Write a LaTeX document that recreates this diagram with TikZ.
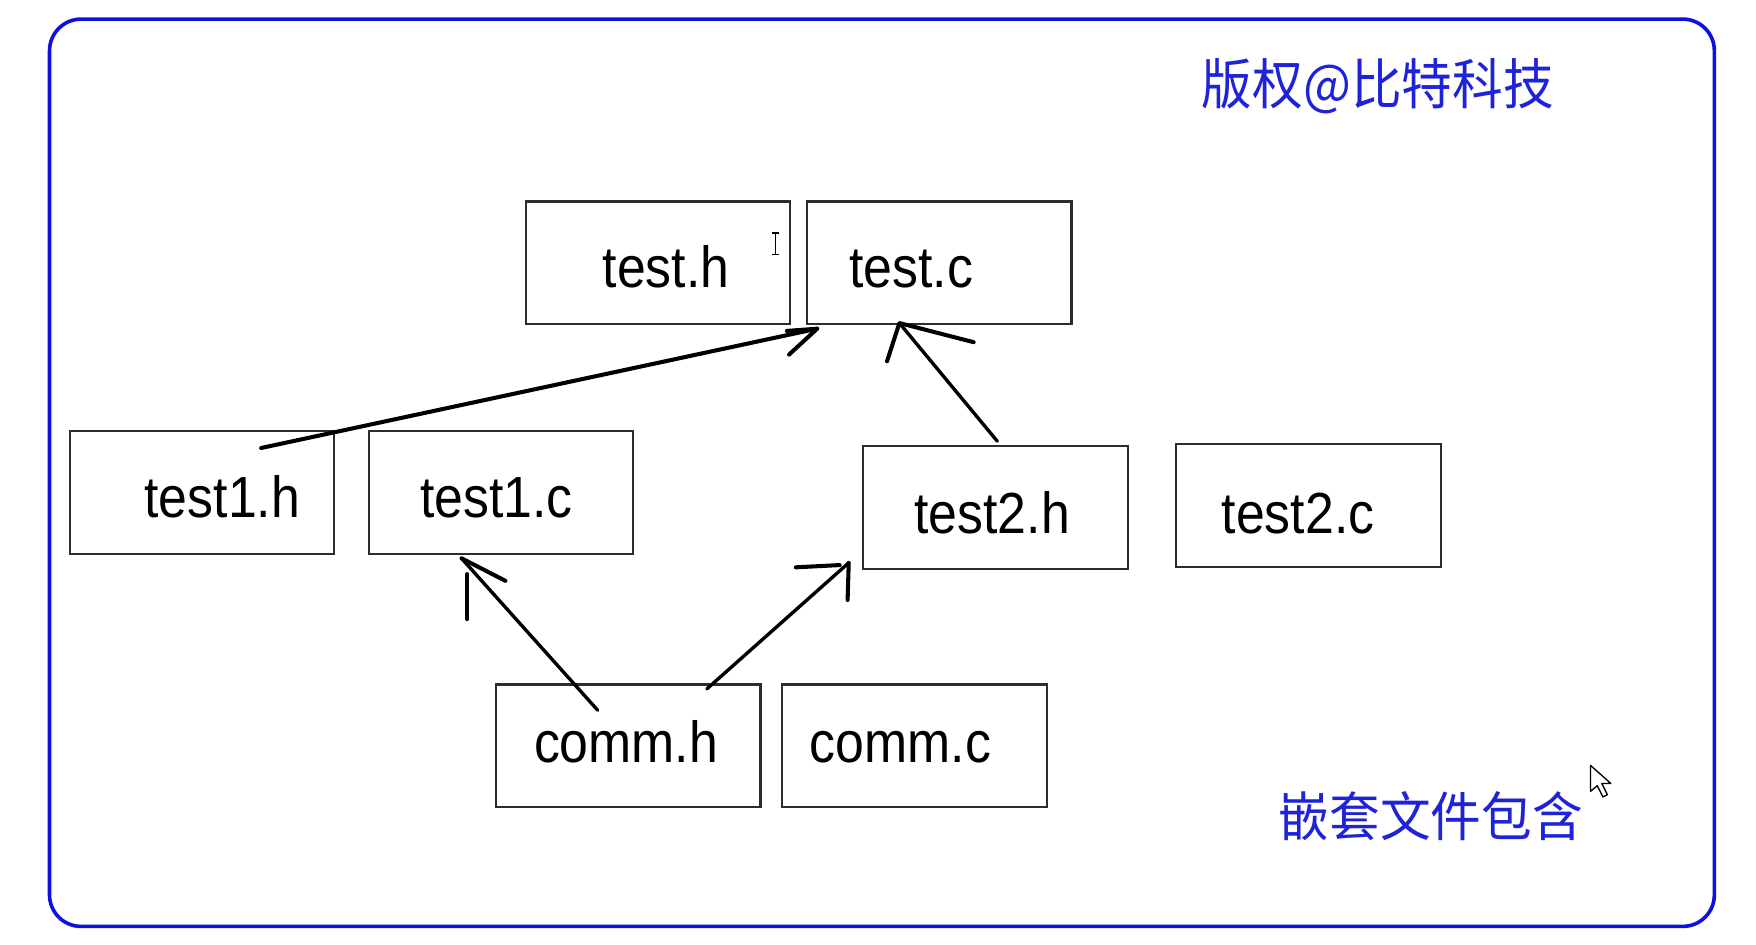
\documentclass[tikz,border=0pt]{standalone}
\usepackage{fontspec}
\setmainfont{Liberation Sans}
\newfontfamily\cjk{Noto Sans CJK SC}
\definecolor{frameblue}{RGB}{15,15,225}
\definecolor{textblue}{RGB}{30,35,215}
\definecolor{boxgray}{RGB}{45,45,45}
\begin{document}
\begin{tikzpicture}[x=0.5pt,y=-0.5pt,
  filebox/.style={draw=boxgray,line width=1pt,minimum width=117.5pt,minimum height=54.5pt,inner sep=0pt},
  ftext/.style={inner sep=0pt,anchor=base west,font=\fontsize{23}{23}\selectfont},
  cjktext/.style={inner sep=0pt,text=textblue,font=\cjk\fontsize{22.5}{22.5}\selectfont},
  hand/.style={line width=1.8pt,line cap=round,line join=round},
  thinhand/.style={line width=1.5pt,line cap=round,line join=round}]
\useasboundingbox[fill=white] (0,0) rectangle (1560,839);
\draw[frameblue,line width=1.6pt,rounded corners=14pt] (44,17) rectangle (1523,823);

% boxes
\node[filebox] (testh)  at (584.5,233.5) {};
\node[filebox] (testc)  at (834.5,233.5) {};
\node[filebox] (test1h) at (179.5,437.5) {};
\node[filebox] (test1c) at (445,437.5) {};
\node[filebox] (test2h) at (884.5,451) {};
\node[filebox] (test2c) at (1162.5,449) {};
\node[filebox] (commh)  at (558,662.5) {};
\node[filebox] (commc)  at (812.5,662.5) {};

% labels
\node[ftext] (ltesth)  at (535,255) {\scalebox{1}[1.12]{test.h}};
\node[ftext] (ltestc)  at (754,255) {\scalebox{1}[1.12]{test.c}};
\node[ftext] (ltest1h) at (128,460) {\scalebox{1}[1.12]{test1.h}};
\node[ftext] (ltest1c) at (373,460) {\scalebox{1}[1.12]{test1.c}};
\node[ftext] (ltest2h) at (812,474) {\scalebox{1}[1.12]{test2.h}};
\node[ftext] (ltest2c) at (1085,474) {\scalebox{1}[1.12]{test2.c}};
\node[ftext] (lcommh)  at (474,677) {\scalebox{1}[1.12]{comm.h}};
\node[ftext] (lcommc)  at (719,677) {\scalebox{1}[1.12]{comm.c}};

\node[cjktext] (copy)  at (1224,77)  {\scalebox{1}[1.08]{版权@比特科技}};
\node[cjktext] (title) at (1271,725) {\scalebox{1}[1.05]{嵌套文件包含}};

% hand-drawn arrows
\coordinate (a1s) at (232,398);
\coordinate (a1t) at (726,292);
\draw[hand] (a1s) -- (a1t);
\draw[hand] (699,294) -- (a1t) -- (701,315);

\coordinate (a2s) at (886,392);
\coordinate (a2t) at (799,287);
\draw[thinhand] (a2s) -- (a2t);
\draw[hand] (788,321) -- (a2t) -- (865,304);

\coordinate (a3s) at (531,631);
\coordinate (a3t) at (410,496);
\draw[thinhand] (a3s) -- (a3t);
\draw[hand] (415,550) -- (415,510);
\draw[hand] (a3t) -- (449,516);

\coordinate (a4s) at (628,612);
\coordinate (a4t) at (754,500);
\draw[thinhand] (a4s) -- (a4t);
\draw[hand] (707,504) -- (746,502);
\draw[hand] (a4t) -- (753,533);

% screen cursors
\draw[line width=0.7pt] (689,207) -- (689,226) (686,207) -- (692,207) (686,226) -- (692,226);
\draw[line width=0.6pt,fill=white,line join=round] (1413,680) -- (1413,703) -- (1419,698) -- (1424,708) -- (1428,706) -- (1423,696) -- (1431,696) -- cycle;
\end{tikzpicture}
\end{document}
